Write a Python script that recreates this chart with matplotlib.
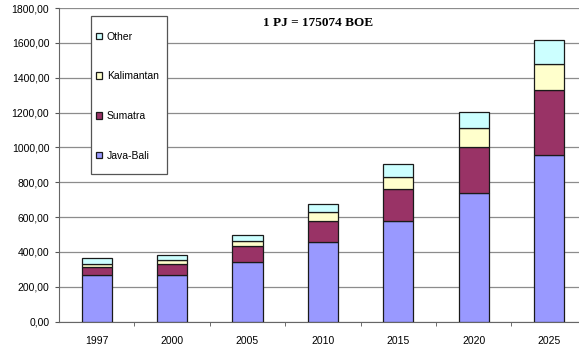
import matplotlib.pyplot as plt
import numpy as np
from matplotlib.patches import Rectangle

# values (PJ)
years = ['1997', '2000', '2005', '2010', '2015', '2020', '2025']
java_bali = [268, 268, 341, 458, 580, 738, 954]
sumatra = [46, 65, 92, 119, 181, 264, 374]
kalimantan = [18, 22, 29, 53, 72, 109, 149]
other = [32, 28, 35, 45, 72, 90, 142]
y_ticks = [0, 200, 400, 600, 800, 1000, 1200, 1400, 1600, 1800]

plt.rcParams['font.family'] = ['Liberation Sans', 'DejaVu Sans']

fig = plt.figure(figsize=(5.79, 3.47), dpi=100)
ax = fig.add_axes([59 / 579, 25.3 / 347, 527.7 / 579, 313.7 / 347])

x = np.arange(len(years))
w = 0.40
series = [('Java-Bali', java_bali, '#9999FF'),
          ('Sumatra', sumatra, '#993366'),
          ('Kalimantan', kalimantan, '#FFFFCC'),
          ('Other', other, '#CCFFFF')]
bottom = np.zeros(len(years))
for name, vals, col in series:
    ax.bar(x, vals, w, bottom=bottom, color=col, edgecolor='#1a1a1a',
           linewidth=0.9, label=name, zorder=3)
    bottom += np.array(vals)

ax.set_xlim(-0.5, len(years) - 0.5)
ax.set_ylim(0, 1800)
ax.set_yticks(y_ticks)
ax.set_yticklabels([f'{v:.2f}'.replace('.', ',') for v in y_ticks])
ax.set_xticks(x)
ax.set_xticklabels(years)
ax.set_xticks(np.arange(0.5, len(years) - 1, 1), minor=True)
ax.tick_params(axis='x', which='major', length=0, pad=10, labelsize=7.5)
ax.tick_params(axis='x', which='minor', length=3, color='#555555')
ax.tick_params(axis='y', length=3, pad=4, labelsize=7.5, color='#555555')
ax.yaxis.grid(True, color='#8c8c8c', linewidth=0.9, zorder=0)
ax.set_axisbelow(True)
for s in ['top', 'right']:
    ax.spines[s].set_visible(False)
ax.spines['left'].set_color('#666666')
ax.spines['bottom'].set_color('#666666')

# legend box
ax.add_patch(Rectangle((90.7 / 579, 1 - 174 / 347), 76 / 579, 158 / 347,
                       transform=fig.transFigure, facecolor='white',
                       edgecolor='#555555', linewidth=0.9, zorder=4,
                       clip_on=False))
handles, labels = ax.get_legend_handles_labels()
ax.legend(handles[::-1], labels[::-1], loc='upper left',
          bbox_to_anchor=(96 / 579, 1 - 31.5 / 347),
          bbox_transform=fig.transFigure, frameon=False, fontsize=7.5,
          borderpad=0, borderaxespad=0, handlelength=0.6, handleheight=0.6,
          handletextpad=0.45, labelspacing=2.85)

fig.text(318 / 579, 1 - 23 / 347, '1 PJ = 175074 BOE', ha='center', va='center',
         fontsize=9.5, fontweight='bold', family=['Liberation Serif', 'DejaVu Serif'])

fig.savefig('out.png', dpi=100)
